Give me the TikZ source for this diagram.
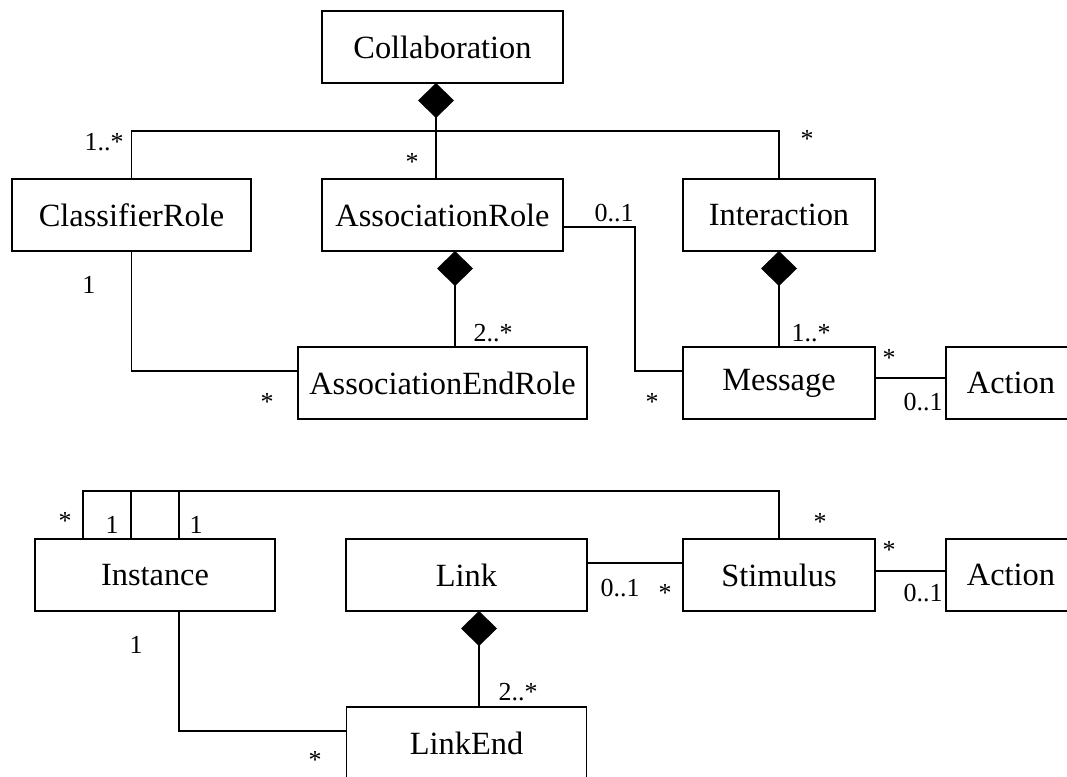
\documentclass[tikz,border=0pt]{standalone}
\usepackage{fontspec}
\setmainfont{Liberation Serif}
\usetikzlibrary{arrows.meta,calc}

\begin{document}
\begin{tikzpicture}[x=0.5pt,y=-0.5pt,line width=0.65pt,
    umlclass/.style={draw,rectangle,minimum height=36pt,inner sep=0pt,outer sep=0pt,
      font=\fontsize{16.2}{19}\selectfont},
    mult/.style={inner sep=0pt,font=\fontsize{13}{15}\selectfont},
    compo/.style={-{Diamond[length=17.5pt,width=18pt]}}]
  \useasboundingbox (0,0) rectangle (1067,777);
  \clip (0,0) rectangle (1067,777);

  % collaboration part
  \node[umlclass,minimum width=120.5pt] (collab) at (442.5,47) {Collaboration};
  \node[umlclass,minimum width=119.5pt] (clsrole) at (131.5,215) {ClassifierRole};
  \node[umlclass,minimum width=120.5pt] (assocrole) at (442.5,215) {AssociationRole};
  \node[umlclass,minimum width=96pt] (interaction) at (779,215) {Interaction};
  \node[umlclass,minimum width=144.5pt] (assocend) at (442.5,383) {AssociationEndRole};
  \node[umlclass,minimum width=96pt] (message) at (779,383) {Message};
  \node[umlclass,minimum width=65pt] (action1) at (1011,383) {Action};

  \coordinate (cbus) at (436,131);
  \coordinate (celbow) at (635,300);
  \draw (clsrole.north) |- (cbus) -| (interaction.north);
  \draw[compo] (cbus |- assocrole.north) -- (cbus |- collab.south);
  \draw[compo] ($(assocend.north)+(12.5,0)$) -- ($(assocrole.south)+(12.5,0)$);
  \draw (clsrole.south) |- ($(assocend.west)+(0,-12)$);
  \draw ($(assocrole.east)+(0,12)$) -| (celbow) |- ($(message.west)+(0,-12)$);
  \draw[compo] (message.north) -- (interaction.south);
  \draw ($(message.east)+(0,-5)$) -- ($(action1.west)+(0,-5)$);

  \node[mult] (m1) at (104,142) {1..*};
  \node[mult] (m2) at (412,162) {*};
  \node[mult] (m3) at (807,139) {*};
  \node[mult] (m4) at (614,213) {0..1};
  \node[mult] (m5) at (89,285) {1};
  \node[mult] (m6) at (493,333) {2..*};
  \node[mult] (m7) at (811,333) {1..*};
  \node[mult] (m8) at (267,402) {*};
  \node[mult] (m9) at (652,402) {*};
  \node[mult] (m10) at (889,358) {*};
  \node[mult] (m11) at (923,402) {0..1};

  % instance part
  \node[umlclass,minimum width=120pt] (instance) at (155,575) {Instance};
  \node[umlclass,minimum width=120.5pt] (link) at (466.5,575) {Link};
  \node[umlclass,minimum width=96pt] (stimulus) at (779,575) {Stimulus};
  \node[umlclass,minimum width=65pt] (action2) at (1011,575) {Action};
  \node[umlclass,minimum width=120pt] (linkend) at (466.5,743) {LinkEnd};

  \coordinate (sbus) at (779,491);
  \draw ($(instance.north)+(-72,0)$) |- (sbus) -- (stimulus.north);
  \draw ($(instance.north)+(-24,0)$) |- (sbus);
  \draw ($(instance.north)+(24,0)$) |- (sbus);
  \draw ($(link.east)+(0,-12)$) -- ($(stimulus.west)+(0,-12)$);
  \draw ($(stimulus.east)+(0,-4)$) -- ($(action2.west)+(0,-4)$);
  \draw[compo] ($(linkend.north)+(12.5,0)$) -- ($(link.south)+(12.5,0)$);
  \draw ($(instance.south)+(24,0)$) |- ($(linkend.west)+(0,-12)$);

  \node[mult] (n1) at (65,521) {*};
  \node[mult] (n2) at (112,525) {1};
  \node[mult] (n3) at (196,525) {1};
  \node[mult] (n4) at (820,522) {*};
  \node[mult] (n5) at (889,550) {*};
  \node[mult] (n6) at (620,588) {0..1};
  \node[mult] (n7) at (665,593) {*};
  \node[mult] (n8) at (923,593) {0..1};
  \node[mult] (n9) at (136,645) {1};
  \node[mult] (n10) at (518,692) {2..*};
  \node[mult] (n11) at (315,760) {*};
\end{tikzpicture}
\end{document}
